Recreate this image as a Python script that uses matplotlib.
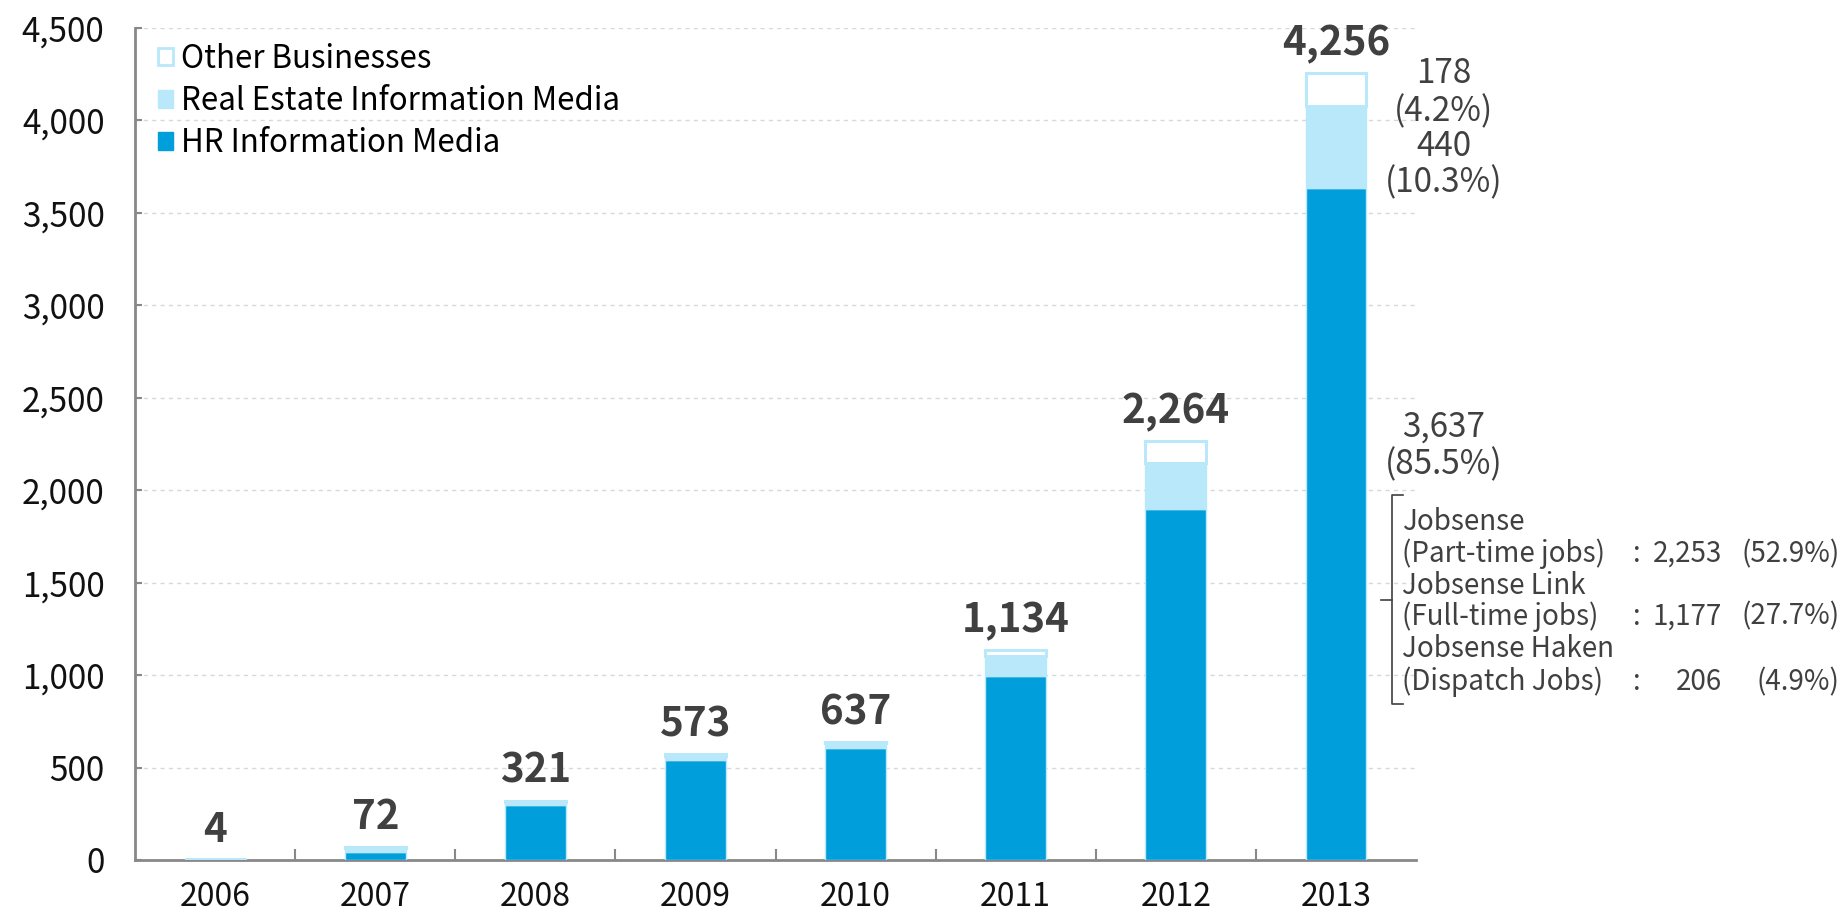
#!/usr/bin/env python3
"""========================================================================
Purpose:
    Stacked bar chart of sales by business segment, 2006-2013.
========================================================================"""
#=========================================================================#
# Python packages                                                         #
#=========================================================================#
import numpy as np
import matplotlib
matplotlib.use('Agg')
import matplotlib.pyplot as plt
from matplotlib.patches import Patch
from matplotlib.ticker import FuncFormatter, MultipleLocator
#=========================================================================#
# Data                                                                    #
#=========================================================================#
years       = ['2006', '2007', '2008', '2009', '2010', '2011', '2012', '2013']
hr_media    = [0, 42, 298, 540, 605, 995, 1898, 3637]
re_media    = [4, 22, 18, 25, 27, 110, 251, 440]
other_bus   = [0, 8, 5, 8, 5, 29, 115, 178]
totals      = [4, 72, 321, 573, 637, 1134, 2264, 4256]

seg_labels  = ['Other Businesses', 'Real Estate Information Media',
               'HR Information Media']
side_notes  = [('178', '(4.2%)'), ('440', '(10.3%)'), ('3,637', '(85.5%)')]
job_names   = ['Jobsense', 'Jobsense Link', 'Jobsense Haken']
job_kinds   = ['(Part-time jobs)', '(Full-time jobs)', '(Dispatch Jobs)']
job_values  = ['2,253', '1,177', '206']
job_shares  = ['(52.9%)', '(27.7%)', '(4.9%)']
#=========================================================================#
# Styles                                                                  #
#=========================================================================#
c_hr        = '#009edb'
c_re        = '#b9e8fb'
c_text      = '#404040'
c_axis      = '#888888'
plt.rcParams['font.family'] = ['Noto Sans CJK JP', 'DejaVu Sans']
#=========================================================================#
# Main                                                                    #
#=========================================================================#
if __name__ == '__main__':
    fig         = plt.figure(figsize=(18.43, 9.14), dpi=100)
    ax          = fig.add_axes([0.0733, 0.0591, 0.695, 0.9103])

    x           = np.arange(len(years))
    hr          = np.array(hr_media)
    re          = np.array(re_media)
    ot          = np.array(other_bus)
    w           = 0.38
    #---------------------------------------------------------------------#
    # Bars                                                                #
    #---------------------------------------------------------------------#
    ax.bar(x, hr, w, color=c_hr, edgecolor=c_re, linewidth=1, zorder=3)
    ax.bar(x, re, w, bottom=hr, color=c_re, edgecolor=c_re, linewidth=1,
           zorder=3)
    ax.bar(x, ot, w, bottom=hr + re, color='white', edgecolor=c_re,
           linewidth=2.2, zorder=3)

    for xi, tot in zip(x, totals):
        ax.annotate('{:,}'.format(tot), (xi, tot), xytext=(0, 21),
                    textcoords='offset points', ha='center', va='center',
                    fontsize=29, fontweight='bold', color=c_text)
    #---------------------------------------------------------------------#
    # Axes                                                                #
    #---------------------------------------------------------------------#
    ax.set_xlim(-0.5, len(years) - 0.5)
    ax.set_ylim(0, 4500)
    ax.yaxis.set_major_locator(MultipleLocator(500))
    ax.yaxis.set_major_formatter(FuncFormatter(lambda v, p: '{:,}'.format(int(v))))
    ax.set_xticks(x)
    ax.set_xticklabels(years)
    ax.set_xticks(x[:-1] + 0.5, minor=True)
    ax.tick_params(axis='x', which='major', length=0, pad=15, labelsize=23,
                   labelcolor='#111111')
    ax.tick_params(axis='x', which='minor', direction='in', length=8,
                   width=1.5, color=c_axis)
    ax.tick_params(axis='y', direction='in', length=5, width=1.5,
                   color=c_axis, pad=22, labelsize=24, labelcolor='#111111')
    ax.grid(axis='y', linestyle=(0, (3, 3)), color='#d8d8d8', linewidth=1,
            zorder=0)
    ax.spines['top'].set_visible(False)
    ax.spines['right'].set_visible(False)
    for s in ['left', 'bottom']:
        ax.spines[s].set_color(c_axis)
        ax.spines[s].set_linewidth(2)
    #---------------------------------------------------------------------#
    # Legend                                                              #
    #---------------------------------------------------------------------#
    handles     = [Patch(facecolor='white', edgecolor=c_re, linewidth=2),
                   Patch(facecolor=c_re, edgecolor=c_re),
                   Patch(facecolor=c_hr, edgecolor=c_hr)]
    ax.legend(handles, seg_labels, loc='upper left',
              bbox_to_anchor=(0.003, 1.005), frameon=False, fontsize=22.5,
              handlelength=0.5, handleheight=0.5, handletextpad=0.25,
              labelspacing=0.33, borderaxespad=0.2)
    #---------------------------------------------------------------------#
    # Side annotations for 2013                                           #
    #---------------------------------------------------------------------#
    xn          = x[-1] + 0.675
    note_y      = [(4253, 4047), (3858, 3664), (2344, 2139)]
    for (val, pct), (y1, y2) in zip(side_notes, note_y):
        ax.text(xn, y1, val, ha='center', va='center', fontsize=24,
                color=c_text, clip_on=False)
        ax.text(xn, y2, pct, ha='center', va='center', fontsize=24,
                color=c_text, clip_on=False)

    xb          = x[-1] + 0.35
    ax.plot([xb + 0.07, xb, xb, xb + 0.07], [1974, 1974, 844, 844],
            color=c_text, linewidth=1.2, clip_on=False)
    ax.plot([xb - 0.07, xb], [1406, 1406], color=c_text, linewidth=1.2,
            clip_on=False)

    line_y      = [1828, 1655, 1482, 1315, 1141, 962]
    xt          = x[-1] + 0.41
    for k in range(3):
        ax.text(xt, line_y[2*k], job_names[k], ha='left', va='center',
                fontsize=20, color=c_text, clip_on=False)
        ax.text(xt, line_y[2*k+1], job_kinds[k], ha='left', va='center',
                fontsize=20, color=c_text, clip_on=False)
        ax.text(x[-1] + 1.88, line_y[2*k+1], ':', ha='center', va='center',
                fontsize=20, color=c_text, clip_on=False)
        ax.text(x[-1] + 2.41, line_y[2*k+1], job_values[k], ha='right',
                va='center', fontsize=20, color=c_text, clip_on=False)
        ax.text(x[-1] + 3.145, line_y[2*k+1], job_shares[k], ha='right',
                va='center', fontsize=20, color=c_text, clip_on=False)

    fig.savefig('out.png', dpi=100)
